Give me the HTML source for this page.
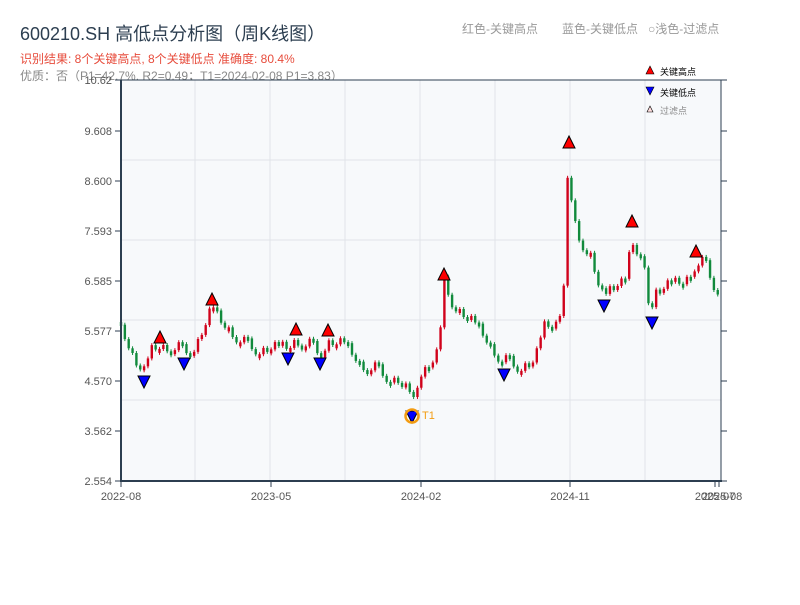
<!DOCTYPE html>
<html><head><meta charset="utf-8"><style>
body{margin:0;background:#fff;}
svg text{font-family:"Liberation Sans","Noto Sans CJK SC",sans-serif;}
</style></head><body>
<svg id="s" width="800" height="600" xmlns="http://www.w3.org/2000/svg">
<rect width="800" height="600" fill="#fff"/>
<text x="20" y="40" font-size="18" fill="#2c3e50">600210.SH 高低点分析图（周K线图）</text>
<text x="20" y="63" font-size="12" fill="#e74c3c">识别结果: 8个关键高点, 8个关键低点  准确度: 80.4%</text>
<text x="20" y="80" font-size="12" fill="#888">优质：否（P1=42.7%, R2=0.49；T1=2024-02-08 P1=3.83）</text>
<text x="462" y="33" font-size="12" fill="#999">红色-关键高点</text>
<text x="562" y="33" font-size="12" fill="#999">蓝色-关键低点</text>
<text x="648" y="33" font-size="12" fill="#999">○浅色-过滤点</text>
<rect x="121" y="80" width="600" height="401" fill="#f7f9fb"/>
<g stroke="#e1e4e8" stroke-width="1">
<line x1="195" y1="80" x2="195" y2="481"/><line x1="270" y1="80" x2="270" y2="481"/><line x1="345" y1="80" x2="345" y2="481"/><line x1="420" y1="80" x2="420" y2="481"/><line x1="495" y1="80" x2="495" y2="481"/><line x1="570" y1="80" x2="570" y2="481"/><line x1="645" y1="80" x2="645" y2="481"/>
<line x1="121" y1="160" x2="721" y2="160"/><line x1="121" y1="240" x2="721" y2="240"/><line x1="121" y1="320" x2="721" y2="320"/><line x1="121" y1="400" x2="721" y2="400"/>
</g>
<g id="bars"></g>
<g stroke="#2c3e50" stroke-width="2" fill="none">
<line x1="121" y1="80" x2="721" y2="80" stroke-width="1"/>
<line x1="121" y1="80" x2="121" y2="482"/>
<line x1="120" y1="481" x2="722" y2="481"/>
<line x1="721" y1="80" x2="721" y2="481" stroke-width="1"/>
</g>
<g stroke="#2c3e50" stroke-width="1" id="ticks"></g>
<g font-size="11" fill="#555" text-anchor="end" id="ylab"></g>
<g font-size="11" fill="#555" text-anchor="middle">
<text x="121" y="500">2022-08</text><text x="271" y="500">2023-05</text><text x="421" y="500">2024-02</text><text x="570" y="500">2024-11</text><text x="715" y="500">2025-07</text><text x="722" y="500">2025-08</text>
</g>
<g id="marks"></g>
<circle cx="412" cy="416" r="6.5" fill="none" stroke="#f39c12" stroke-width="2.5"/>
<text x="422" y="419" font-size="11" fill="#f39c12">T1</text>
<polygon points="650,66 654,74 646,74" fill="#f00" stroke="#000" stroke-width="0.6"/>
<text x="660" y="75" font-size="9" fill="#000">关键高点</text>
<polygon points="646,87 654,87 650,95" fill="#00f" stroke="#000" stroke-width="0.6"/>
<text x="660" y="96" font-size="9" fill="#000">关键低点</text>
<polygon points="650,106 653,112 647,112" fill="#fdd" stroke="#000" stroke-width="0.6"/>
<text x="660" y="114" font-size="9" fill="#888">过滤点</text>
</svg>
<script>
(function(){
var NS="http://www.w3.org/2000/svg";
function el(p,t,a){var e=document.createElementNS(NS,t);for(var k in a)e.setAttribute(k,a[k]);p.appendChild(e);return e;}
var yv=[["10.62",80],["9.608",131],["8.600",181],["7.593",231],["6.585",281],["5.577",331],["4.570",381],["3.562",431],["2.554",481]];
var tk=document.getElementById("ticks"),yl=document.getElementById("ylab");
yv.forEach(function(v){el(tk,"line",{x1:115,y1:v[1],x2:121,y2:v[1]});el(tk,"line",{x1:721,y1:v[1],x2:727,y2:v[1]});var t=el(yl,"text",{x:112,y:v[1]+4});t.textContent=v[0];});
[121,271,421,570,715,719].forEach(function(x){el(tk,"line",{x1:x,y1:481,x2:x,y2:487});});
var A=[[121,322],[128,340],[135,360],[144,372],[152,350],[160,345],[170,345],[184,352],[195,345],[205,325],[212,308],[220,320],[232,330],[245,345],[260,348],[288,347],[296,338],[308,345],[320,352],[328,340],[345,345],[360,362],[380,372],[400,380],[410,395],[413,405],[420,375],[435,352],[442,330],[444,283],[452,300],[465,315],[480,330],[495,350],[504,362],[520,365],[535,360],[545,325],[555,325],[563,300],[567,185],[569,152],[572,220],[580,240],[590,250],[600,290],[605,298],[615,285],[625,275],[631,232],[637,262],[645,265],[650,310],[655,290],[670,285],[685,280],[696,262],[705,265],[715,285],[721,292]];
function yAt(x){for(var i=1;i<A.length;i++){if(x<=A[i][0]){var a=A[i-1],b=A[i];return a[1]+(b[1]-a[1])*(x-a[0])/(b[0]-a[0]);}}return A[A.length-1][1];}
var g=document.getElementById("bars");var prev=yAt(121);var i=0;
for(var x=121;x<=721;x+=3.85){i++;var n=((i*7919+i*i*31)%17)-8;
var c=yAt(x)+n*0.9;
var o=prev;var t0=Math.min(o,c),b0=Math.max(o,c);if(b0-t0<4){b0=t0+4;}
var col=c<o?"#d0021b":"#118a3c";
el(g,"line",{x1:x,y1:t0-2,x2:x,y2:b0+2,stroke:col,"stroke-width":1});
el(g,"rect",{x:x-1.2,y:t0,width:2.4,height:b0-t0,fill:col});prev=c;}
var m=document.getElementById("marks");
[[160,338],[212,300],[296,330],[328,331],[444,275],[569,143],[632,222],[696,252]].forEach(function(p){el(m,"polygon",{points:(p[0])+","+(p[1]-7)+" "+(p[0]+6)+","+(p[1]+5)+" "+(p[0]-6)+","+(p[1]+5),fill:"#f00",stroke:"#000","stroke-width":1});});
[[144,381],[184,363],[288,358],[320,363],[412,416],[504,374],[604,305],[652,322]].forEach(function(p){el(m,"polygon",{points:(p[0]-6)+","+(p[1]-5)+" "+(p[0]+6)+","+(p[1]-5)+" "+p[0]+","+(p[1]+7),fill:"#00f",stroke:"#000","stroke-width":1});});
})();
</script>
</body></html>
